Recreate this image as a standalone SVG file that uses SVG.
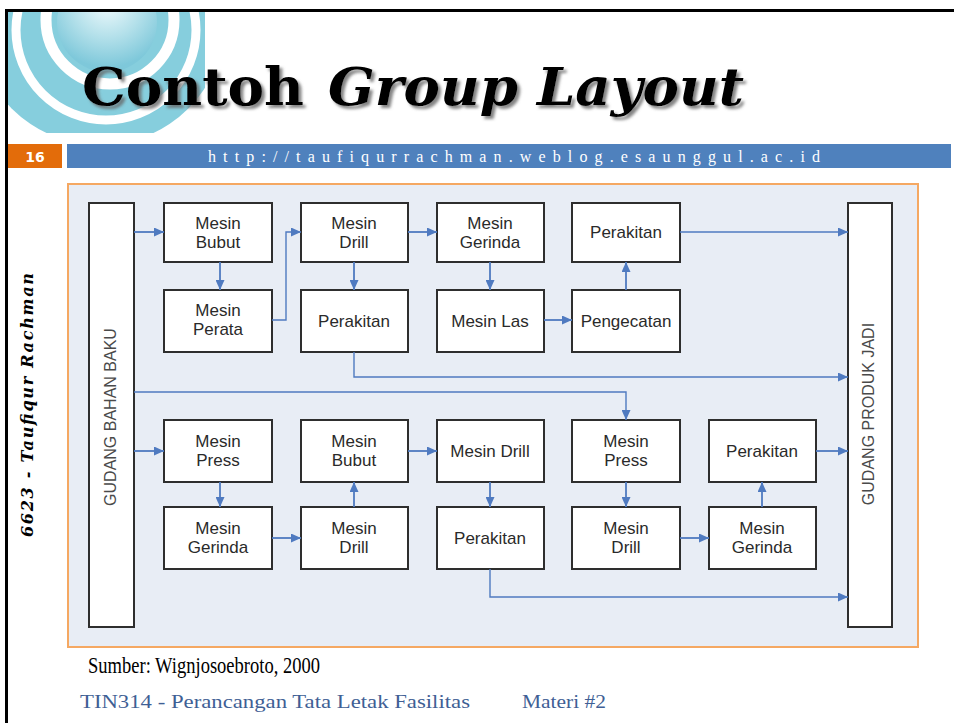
<svg xmlns="http://www.w3.org/2000/svg" width="954" height="723" viewBox="0 0 954 723">
<style>
.box{fill:#ffffff;stroke:#2e2e2e;stroke-width:2}
.lbl{font-family:"Liberation Sans",Arial,sans-serif;font-size:17px;fill:#2a2a2a;text-anchor:middle}
.gud{font-family:"Liberation Sans",Arial,sans-serif;font-size:16px;fill:#4a4a4a;text-anchor:middle}
.con{fill:none;stroke:#4f7ac0;stroke-width:1.8;marker-end:url(#ah)}
.thin{stroke-width:1.4}
.ttl{font-family:"DejaVu Serif",serif;font-weight:bold;font-size:52px;fill:#000}
</style>
<defs>
<marker id="ah" markerUnits="userSpaceOnUse" markerWidth="10" markerHeight="9" refX="10" refY="4.5" orient="auto">
<path d="M0,0 L10,4.5 L0,9 z" fill="#4f7ac0"/>
</marker>
<clipPath id="decoClip"><rect x="8" y="12" width="197" height="121"/></clipPath>
<radialGradient id="sph" cx="0.5" cy="0.3" r="0.65">
<stop offset="0" stop-color="#f2fbfd"/>
<stop offset="0.55" stop-color="#b3e0ea"/>
<stop offset="1" stop-color="#7ec8da"/>
</radialGradient>
<filter id="shadow" x="-5%" y="-20%" width="112%" height="150%">
<feDropShadow dx="3" dy="3" stdDeviation="1.6" flood-color="#666" flood-opacity="0.8"/>
</filter>
</defs>
<rect x="0" y="0" width="954" height="723" fill="#ffffff"/>

<!-- decoration -->
<g id="deco" clip-path="url(#decoClip)">
<circle cx="100" cy="20" r="125" fill="#86cedd"/>
<circle cx="106" cy="30" r="90" fill="none" stroke="#ffffff" stroke-width="9"/>
<circle cx="110" cy="20" r="64" fill="none" stroke="#ffffff" stroke-width="11"/>
<circle cx="107" cy="22" r="50" fill="url(#sph)"/>
</g>

<!-- slide border -->
<line x1="5" y1="10.5" x2="954" y2="10.5" stroke="#000" stroke-width="3"/>
<line x1="6.5" y1="9" x2="6.5" y2="723" stroke="#000" stroke-width="3"/>

<!-- title -->
<g id="title" filter="url(#shadow)">
<text class="ttl" x="82" y="105" textLength="222" lengthAdjust="spacingAndGlyphs">Contoh</text>
<text class="ttl" x="328" y="105" font-style="italic" textLength="416" lengthAdjust="spacingAndGlyphs">Group Layout</text>
</g>

<!-- header bar -->
<g id="header">
<rect x="8" y="144" width="54" height="24" fill="#e36c0a"/>
<text x="35" y="162" font-family="'DejaVu Sans',sans-serif" font-weight="bold" font-size="14" fill="#ffffff" text-anchor="middle">16</text>
<rect x="67" y="144" width="884" height="24" fill="#4f81bd"/>
<text x="208" y="162" font-family="'Liberation Serif',serif" font-size="16" fill="#ffffff" textLength="612" lengthAdjust="spacing">http://taufiqurrachman.weblog.esaunggul.ac.id</text>
</g>

<!-- author vertical -->
<text transform="translate(33,537) rotate(-90)" font-family="'DejaVu Serif',serif" font-weight="bold" font-style="italic" font-size="16" fill="#000" textLength="264" lengthAdjust="spacing">6623 - Taufiqur Rachman</text>

<!-- diagram background -->
<rect x="68" y="184" width="850" height="463" fill="#e8edf5" stroke="#f5a862" stroke-width="2"/>

<g id="gudang-bahan-baku">
<rect class="box" x="89" y="203" width="45" height="424"/>
<text class="gud" transform="translate(116,417) rotate(-90)">GUDANG BAHAN BAKU</text>
</g>
<g id="gudang-produk-jadi">
<rect class="box" x="848" y="203" width="44" height="424"/>
<text class="gud" transform="translate(874,414) rotate(-90)">GUDANG PRODUK JADI</text>
</g>

<!-- row 1 -->
<g id="r1-bubut"><rect class="box" x="164" y="203" width="108" height="59"/><text class="lbl" x="218" y="229">Mesin</text><text class="lbl" x="218" y="248">Bubut</text></g>
<g id="r1-perata"><rect class="box" x="164" y="290" width="108" height="62"/><text class="lbl" x="218" y="316">Mesin</text><text class="lbl" x="218" y="335">Perata</text></g>
<g id="r1-drill"><rect class="box" x="301" y="203" width="107" height="59"/><text class="lbl" x="354" y="229">Mesin</text><text class="lbl" x="354" y="248">Drill</text></g>
<g id="r1-perakitan1"><rect class="box" x="301" y="290" width="107" height="62"/><text class="lbl" x="354" y="327">Perakitan</text></g>
<g id="r1-gerinda"><rect class="box" x="437" y="203" width="107" height="59"/><text class="lbl" x="490" y="229">Mesin</text><text class="lbl" x="490" y="248">Gerinda</text></g>
<g id="r1-las"><rect class="box" x="437" y="290" width="107" height="62"/><text class="lbl" x="490" y="327">Mesin Las</text></g>
<g id="r1-perakitan2"><rect class="box" x="572" y="203" width="108" height="59"/><text class="lbl" x="626" y="238">Perakitan</text></g>
<g id="r1-pengecatan"><rect class="box" x="572" y="290" width="108" height="62"/><text class="lbl" x="626" y="327">Pengecatan</text></g>

<!-- row 2 -->
<g id="r2-press"><rect class="box" x="164" y="420" width="108" height="62"/><text class="lbl" x="218" y="447">Mesin</text><text class="lbl" x="218" y="466">Press</text></g>
<g id="r2-gerinda"><rect class="box" x="164" y="507" width="108" height="62"/><text class="lbl" x="218" y="534">Mesin</text><text class="lbl" x="218" y="553">Gerinda</text></g>
<g id="r2-bubut"><rect class="box" x="301" y="420" width="107" height="62"/><text class="lbl" x="354" y="447">Mesin</text><text class="lbl" x="354" y="466">Bubut</text></g>
<g id="r2-drill1"><rect class="box" x="301" y="507" width="107" height="62"/><text class="lbl" x="354" y="534">Mesin</text><text class="lbl" x="354" y="553">Drill</text></g>
<g id="r2-drill2"><rect class="box" x="437" y="420" width="107" height="62"/><text class="lbl" x="490" y="457">Mesin Drill</text></g>
<g id="r2-perakitan1"><rect class="box" x="437" y="507" width="107" height="62"/><text class="lbl" x="490" y="544">Perakitan</text></g>
<g id="r2-press2"><rect class="box" x="572" y="420" width="108" height="62"/><text class="lbl" x="626" y="447">Mesin</text><text class="lbl" x="626" y="466">Press</text></g>
<g id="r2-drill3"><rect class="box" x="572" y="507" width="108" height="62"/><text class="lbl" x="626" y="534">Mesin</text><text class="lbl" x="626" y="553">Drill</text></g>
<g id="r2-perakitan2"><rect class="box" x="709" y="420" width="107" height="62"/><text class="lbl" x="762" y="457">Perakitan</text></g>
<g id="r2-gerinda2"><rect class="box" x="709" y="507" width="107" height="62"/><text class="lbl" x="762" y="534">Mesin</text><text class="lbl" x="762" y="553">Gerinda</text></g>

<!-- connectors -->
<g id="connectors">
<path class="con" d="M134,232 H164"/>
<path class="con" d="M220,262 V290"/>
<path class="con thin" d="M272,320 H286 V232 H301"/>
<path class="con" d="M354,262 V290"/>
<path class="con" d="M408,232 H437"/>
<path class="con" d="M490,262 V290"/>
<path class="con" d="M544,320 H572"/>
<path class="con" d="M626,290 V262"/>
<path class="con thin" d="M680,232 H848"/>
<path class="con thin" d="M354,352 V377 H848"/>
<path class="con thin" d="M134,392 H626 V420"/>
<path class="con" d="M134,451 H164"/>
<path class="con" d="M220,482 V507"/>
<path class="con" d="M272,538 H301"/>
<path class="con" d="M354,507 V482"/>
<path class="con" d="M408,451 H437"/>
<path class="con" d="M490,482 V507"/>
<path class="con" d="M626,482 V507"/>
<path class="con" d="M680,538 H709"/>
<path class="con" d="M762,507 V482"/>
<path class="con" d="M816,451 H848"/>
<path class="con thin" d="M490,569 V597 H848"/>
</g>

<!-- footer -->
<text x="88" y="673" font-family="'Liberation Serif',serif" font-size="24" fill="#000" textLength="232" lengthAdjust="spacingAndGlyphs">Sumber: Wignjosoebroto, 2000</text>
<text x="80" y="708" font-family="'Liberation Serif',serif" font-size="18" fill="#3f5f95" textLength="390" lengthAdjust="spacingAndGlyphs">TIN314 - Perancangan Tata Letak Fasilitas</text>
<text x="522" y="708" font-family="'Liberation Serif',serif" font-size="18" fill="#3f5f95" textLength="84" lengthAdjust="spacingAndGlyphs">Materi #2</text>
</svg>
